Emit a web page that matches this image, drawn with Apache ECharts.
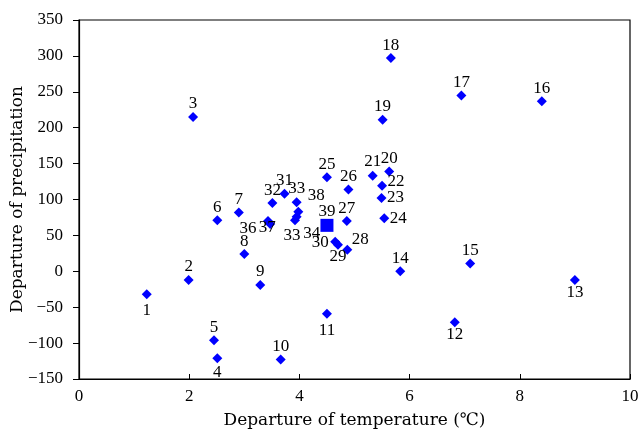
<!DOCTYPE html>
<html><head><meta charset="utf-8">
<script src="https://cdn.jsdelivr.net/npm/echarts@6/dist/echarts.min.js"></script>
<style>html,body{margin:0;padding:0;background:#fff}#c{width:640px;height:432px}</style>
</head><body><div id="c"></div>
<script>
// Data
var labels = ['1','2','3','4','5','6','7','8','9','10','11','12','13','14','15','16','17','18','19','20','21','22','23','24','25','26','27','28','29','30','31','32','33','34','33','36','37','38','39'];
var tempDep = [1.23,1.99,2.07,2.51,2.45,2.51,2.90,3.00,3.29,3.66,4.50,6.82,9.00,5.83,7.10,8.40,6.94,5.66,5.51,5.63,5.33,5.50,5.49,5.54,4.50,4.89,4.86,4.87,4.70,4.65,3.73,3.51,3.92,3.95,3.95,3.43,3.47,3.98,4.50];
var precipDep = [-32,-12,215,-121,-96,71,82,24,-19,-123,-59,-71,-12,0,11,237,245,297,211,139,133,119,102,74,131,114,70,30,37,41,108,95,71,76,96,70,66,83,64];
var xTicks = [0,2,4,6,8,10];
var yTicks = [-150,-100,-50,0,50,100,150,200,250,300,350];

// label placement (style), by index: offset of text centre from point centre
var labelOffset = {
  0:[0,16], 3:[0,14], 10:[0,17], 11:[0,12], 12:[0,13],
  13:[0,-13], 20:[0,-14], 21:[14,-4], 22:[14,-1], 23:[14,0],
  27:[13,-10], 28:[0,12], 29:[-15,1],
  32:[-3,15], 33:[15,17], 34:[0,-14], 35:[-20,7], 36:[-3,4], 37:[18,-16], 38:[0,-14]
};

var font = '"Liberation Serif","Times New Roman",serif';
var titleFont = '"DejaVu Serif",serif';
var pts = tempDep.map(function(x,i){
  var off = labelOffset[i] || [0,-13];
  var isSq = (i === labels.length-1);
  var s = isSq ? 13 : 10;
  return {
    value:[x, precipDep[i]], name: labels[i],
    symbol: isSq ? 'rect' : 'diamond',
    symbolSize: s,
    label:{show:true, position:[s/2+off[0], s/2+off[1]], align:'center', verticalAlign:'middle',
      formatter:labels[i], color:'#000', fontFamily:font, fontSize:17}
  };
});

var chart = echarts.init(document.getElementById('c'), null, {renderer:'canvas'});
chart.setOption({
  animation:false,
  backgroundColor:'#fff',
  grid:{left:79, right:10, top:20, bottom:53, outerBoundsMode:'none', containLabel:false,
    show:true, borderColor:'#000', borderWidth:1.2, backgroundColor:'transparent'},
  xAxis:{type:'value', min:xTicks[0], max:xTicks[xTicks.length-1], interval:2,
    name:'Departure of temperature (℃)', nameLocation:'middle', nameGap:33, nameMoveOverlap:false,
    nameTextStyle:{color:'#000', fontFamily:titleFont, fontSize:17},
    axisLine:{show:true, onZero:false, lineStyle:{color:'#000', width:1.2}},
    axisTick:{show:true, inside:true, length:5, lineStyle:{color:'#000'}},
    axisLabel:{color:'#000', fontFamily:font, fontSize:17, margin:9},
    splitLine:{show:false}},
  yAxis:{type:'value', min:yTicks[0], max:yTicks[yTicks.length-1], interval:50,
    name:'Departure of precipitation', nameLocation:'middle', nameGap:53, nameMoveOverlap:false,
    nameTextStyle:{color:'#000', fontFamily:titleFont, fontSize:17},
    axisLine:{show:true, onZero:false, lineStyle:{color:'#000', width:1.2}},
    axisTick:{show:true, inside:false, length:6, lineStyle:{color:'#000'}},
    axisLabel:{color:'#000', fontFamily:font, fontSize:17, margin:16,
      formatter:function(v){return String(v).replace('-','\u2212');}},
    splitLine:{show:false}},
  series:[{type:'scatter', data:pts, itemStyle:{color:'#0000FF', opacity:1}, labelLayout:{hideOverlap:false}}]
});
</script></body></html>
